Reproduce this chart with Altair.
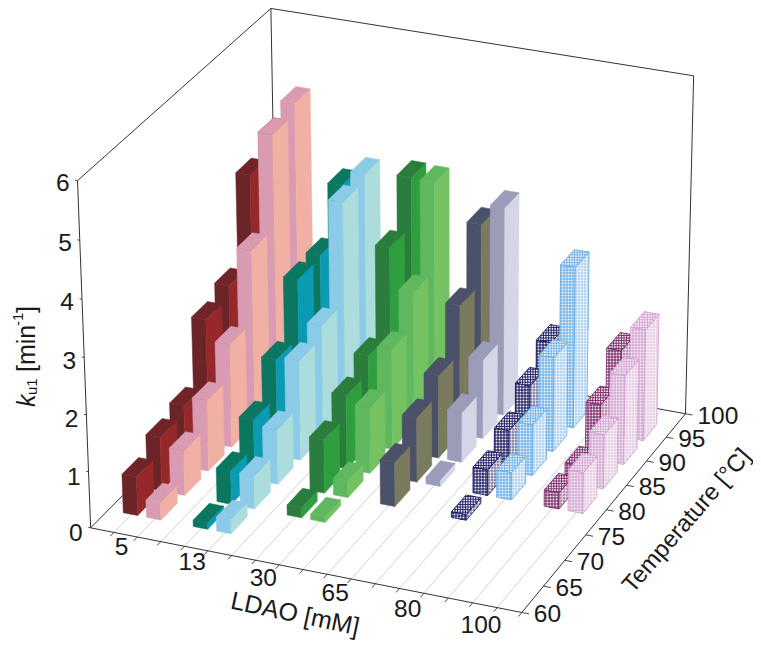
import numpy as np
import pandas as pd
import altair as alt

alt.data_transformers.disable_max_rows()

LDAO = ["5", "13", "30", "65", "80", "100"]
TEMPS = [60, 65, 70, 75, 80, 85, 90, 95, 100]
K_TICKS = [0, 1, 2, 3, 4, 5, 6]

# k_u1 [min^-1]
red_dark = [0.69, 0.96, 1.10, 2.22, 2.42, 3.99, 4.33]
red_light = [0.31, 0.80, 1.27, 1.85, 3.12, 4.77, 4.95]
teal_dark = [0.11, 0.60, 1.08, 1.73, 2.75, 2.78, 3.63]
teal_light = [0.25, 0.59, 0.98, 1.79, 2.00, 3.79, 3.90]
green_dark = [0.18, 0.96, 1.32, 1.61, 3.13, 3.98]
green_light = [0.10, 0.30, 1.18, 1.80, 2.41, 3.96]
gray_dark = [0.79, 1.16, 1.48, 2.32, 3.36]
gray_light = [0.12, 0.90, 1.43, 3.73]
navy_dark = [0.10, 0.46, 0.73, 1.11, 1.47]
navy_light = [0.49, 0.91, 1.69, 2.89]
pink_dark = [0.29, 0.34, 1.00, 1.55]
pink_light = [0.73, 0.97, 1.60, 2.00]

# column, first temperature slot, values, left, right, top colours, hatched
SERIES = [
    (0, 0, red_dark, "#6b2529", "#96282a", "#702428", False),
    (1, 0, red_light, "#d99bb2", "#f0b0a4", "#d99bb2", False),
    (3, 0, teal_dark, "#0b7760", "#0a9bb3", "#0b7760", False),
    (4, 0, teal_light, "#8ccbe8", "#acdcdc", "#8ccbe8", False),
    (6, 1, green_dark, "#2a7d3c", "#2f9e3e", "#2a7d3c", False),
    (7, 1, green_light, "#5fb85f", "#75c262", "#5fb85f", False),
    (9, 2, gray_dark, "#4b5168", "#7a7a5e", "#4b5168", False),
    (10, 3, gray_light, "#9a9cb8", "#d2d6e6", "#9a9cb8", False),
    (12, 2, navy_dark, "#1e1e64", "#1e1e64", "#1e1e64", True),
    (13, 3, navy_light, "#6fb0e5", "#6fb0e5", "#6fb0e5", True),
    (15, 3, pink_dark, "#7d2a6c", "#7d2a6c", "#7d2a6c", True),
    (16, 3, pink_light, "#d3a2d2", "#d3a2d2", "#d3a2d2", True),
]

# perspective camera, solved from the drawn box
NU, NV, NW = 18.0, 8.0, 6.0
BOX = [
    ((0, 0, 0), (90, 527)), ((NU, 0, 0), (523, 612)), ((NU, NV, 0), (685, 415)),
    ((0, 0, NW), (77, 182)), ((0, NV, NW), (272, 8)), ((NU, NV, NW), (693, 75)),
]
rows = []
for (u, v, w), (PX, PY) in BOX:
    rows.append([u, v, w, 1, 0, 0, 0, 0, -PX * u, -PX * v, -PX * w, -PX])
    rows.append([0, 0, 0, 0, u, v, w, 1, -PY * u, -PY * v, -PY * w, -PY])
M = np.linalg.svd(np.array(rows, float))[2][-1].reshape(3, 4)


def P(u, v, w):
    a = M @ np.array([u, v, w, 1.0])
    return a[0] / a[2], a[1] / a[2]


def envelope(poly, name, fill, stroke):
    xs = sorted({round(p[0], 2) for p in poly})
    out = []
    n = len(poly)
    for x in xs:
        ys = []
        for i in range(n):
            (x0, y0), (x1, y1) = poly[i], poly[(i + 1) % n]
            x0, x1 = round(x0, 2), round(x1, 2)
            if min(x0, x1) <= x <= max(x0, x1):
                if x0 == x1:
                    ys += [y0, y1]
                else:
                    ys.append(y0 + (y1 - y0) * (x - x0) / (x1 - x0))
        out.append(dict(face=name, x=x, y=min(ys), y2=max(ys), fill=fill, line=stroke))
    return out


def clip_line(poly, axis, c):
    ts = []
    n = len(poly)
    other = 1 - axis
    for i in range(n):
        a, b = poly[i], poly[(i + 1) % n]
        if (a[axis] - c) * (b[axis] - c) < 0:
            t = (c - a[axis]) / (b[axis] - a[axis])
            ts.append(a[other] + t * (b[other] - a[other]))
    return (min(ts), max(ts)) if len(ts) >= 2 else None


def hatch(poly, colour, pitch, width, opacity):
    out = []
    xs = [p[0] for p in poly]
    ys = [p[1] for p in poly]
    c = np.ceil(min(xs) / pitch) * pitch
    while c < max(xs):
        r = clip_line(poly, 0, c)
        if r:
            out.append(dict(x=c, x2=c, y=r[0], y2=r[1], c=colour, w=width, o=opacity))
        c += pitch
    c = np.ceil(min(ys) / pitch) * pitch
    while c < max(ys):
        r = clip_line(poly, 1, c)
        if r:
            out.append(dict(x=r[0], x2=r[1], y=c, y2=c, c=colour, w=width, o=opacity))
        c += pitch
    return out


BAR_U0, BAR_W = 0.64, 0.62
BAR_V0, BAR_D = 0.72, 0.68

bars = []
for col, first, vals, cl, cr, ct, hatched in SERIES:
    for i, h in enumerate(vals):
        bars.append((first + i, col, h, cl, cr, ct, hatched))
bars.sort(key=lambda b: (-b[0], b[1]))

X = alt.X("x:Q", scale=alt.Scale(domain=[8, 753], range=[0, 745]), axis=None)
Y = alt.Y("y:Q", scale=alt.Scale(domain=[8, 640], range=[0, 632]), axis=None)

solid_rows = []
layers_h = []
for n, (vi, col, h, cl, cr, ct, hatched) in enumerate(bars):
    u0 = col + BAR_U0
    u1 = u0 + BAR_W
    v0 = vi + BAR_V0
    v1 = v0 + BAR_D
    left = [P(u0, v0, 0), P(u1, v0, 0), P(u1, v0, h), P(u0, v0, h)]
    right = [P(u1, v0, 0), P(u1, v1, 0), P(u1, v1, h), P(u1, v0, h)]
    top = [P(u0, v0, h), P(u1, v0, h), P(u1, v1, h), P(u0, v1, h)]
    if not hatched:
        solid_rows += envelope(left, f"{n}a", cl, cl)
        solid_rows += envelope(right, f"{n}b", cr, cr)
        solid_rows += envelope(top, f"{n}c", ct, ct)
    else:
        pr = []
        pr += envelope(left, f"{n}a", "#ffffff", cl)
        pr += envelope(right, f"{n}b", "#ffffff", cl)
        pr += envelope(top, f"{n}c", "#ffffff", cl)
        ar = alt.Chart(pd.DataFrame(pr)).mark_area(strokeWidth=0.9).encode(
            X, Y, alt.Y2("y2:Q"), alt.Fill("fill:N", scale=None),
            alt.Stroke("line:N", scale=None), detail="face:N")
        hr = hatch(left, cl, 3.0, 1.2, 1.0) + hatch(right, cl, 3.0, 0.8, 0.75) + hatch(top, cl, 2.6, 1.0, 1.0)
        rl = alt.Chart(pd.DataFrame(hr)).mark_rule().encode(
            X, Y, alt.X2("x2:Q"), alt.Y2("y2:Q"),
            alt.Stroke("c:N", scale=None), alt.StrokeWidth("w:Q", scale=None),
            alt.Opacity("o:Q", scale=None))
        layers_h += [ar, rl]

solid = alt.Chart(pd.DataFrame(solid_rows)).mark_area(strokeWidth=0.5).encode(
    X, Y, alt.Y2("y2:Q"), alt.Fill("fill:N", scale=None),
    alt.Stroke("line:N", scale=None), detail="face:N")


def seg(a, b, colour, width):
    return dict(x=a[0], y=a[1], x2=b[0], y2=b[1], c=colour, w=width)


DARK = "#333333"
GRID = "#c9c9bb"
lines = []
for i in range(1, 18):
    lines.append(seg(P(i, 0, 0), P(i, NV, 0), GRID, 0.8))
for a, b in [((0, 0, 0), (0, 0, NW)), ((0, 0, NW), (0, NV, NW)), ((0, NV, NW), (NU, NV, NW)),
             ((NU, NV, NW), (NU, NV, 0)), ((0, 0, 0), (NU, 0, 0)), ((NU, 0, 0), (NU, NV, 0)),
             ((0, 0, 0), (0, NV, 0)), ((0, NV, 0), (NU, NV, 0)), ((0, NV, 0), (0, NV, NW))]:
    lines.append(seg(P(*a), P(*b), DARK, 1.0))
for i in range(1, 19):
    lines.append(seg(P(i, 0, 0), P(i, -0.15, 0), DARK, 0.9))
for i in range(0, 9):
    lines.append(seg(P(NU, i, 0), P(NU + 0.3, i, 0), DARK, 0.9))
for k in K_TICKS:
    lines.append(seg(P(0, 0, k), P(-0.1, 0, k), DARK, 0.9))
frame = alt.Chart(pd.DataFrame(lines)).mark_rule().encode(
    X, Y, alt.X2("x2:Q"), alt.Y2("y2:Q"),
    alt.Stroke("c:N", scale=None), alt.StrokeWidth("w:Q", scale=None))

FONT = "Liberation Sans"
TXT = "#1a1a1a"


def texts(rows, size=25, angle=0, align="center", style="normal"):
    return alt.Chart(pd.DataFrame(rows)).mark_text(
        font=FONT, fontSize=size, angle=angle, align=align, baseline="middle",
        fontStyle=style, color=TXT).encode(X, Y, text="t:N")


t_k = []
for k in K_TICKS:
    px, py = P(0, 0, k)
    t_k.append(dict(x=px - 8, y=py + 3 + (6 - k) * 0.6, t=str(k)))
t_l = []
for k, lab in enumerate(LDAO):
    px, py = P(1.5 + 3 * k, 0, 0)
    t_l.append(dict(x=px - 4, y=py + 13 + 1.5 * k, t=lab))
t_t = []
for i, lab in enumerate(TEMPS):
    px, py = P(NU, i, 0)
    t_t.append(dict(x=px + 12, y=py + 3, t=str(lab)))

labels = [
    texts(t_k, size=24.5, align="right"),
    texts(t_l, size=24.5),
    texts(t_t, size=24.5, align="left"),
    texts([dict(x=295, y=614, t="LDAO [mM]")], angle=12),
    texts([dict(x=687, y=521, t="Temperature [°C]")], size=24, angle=311),
    texts([dict(x=27, y=407, t="k")], angle=270, align="left", style="italic"),
    texts([dict(x=32, y=395, t="u1")], size=15, angle=270, align="left"),
    texts([dict(x=27, y=372, t="[min")], angle=270, align="left"),
    texts([dict(x=18, y=326, t="-1")], size=15, angle=270, align="left"),
    texts([dict(x=27, y=313, t="]")], angle=270, align="left"),
]

chart = alt.layer(frame, solid, *layers_h, *labels).properties(
    width=745, height=632, padding=0, autosize=alt.AutoSizeParams(type="none")
).configure_view(stroke=None)

chart.save("out.html", embed_options={"renderer": "svg", "actions": False})
